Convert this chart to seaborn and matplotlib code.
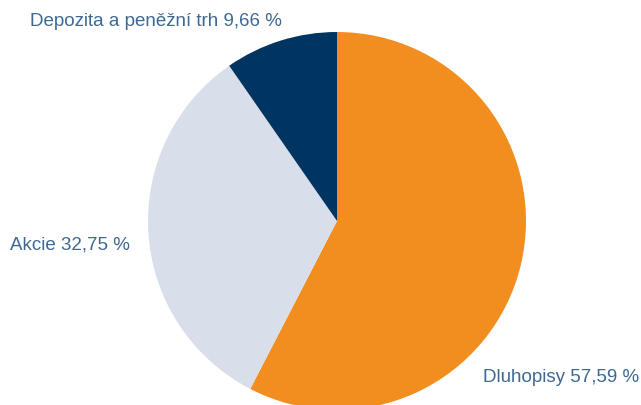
import matplotlib
matplotlib.use("Agg")
import matplotlib.pyplot as plt
import seaborn as sns

# portfolio split, clockwise from 12 o'clock
categories = ['Dluhopisy', 'Akcie', 'Depozita a peněžní trh']
shares = [57.59, 32.75, 9.66]
colors = ['#F28E20', '#D8DFEA', '#003562']
value_labels = ['57,59 %', '32,75 %', '9,66 %']

sns.set_style("white")
plt.rcParams['font.family'] = ['Liberation Sans', 'DejaVu Sans']

fig = plt.figure(figsize=(6.41, 4.05), dpi=100)
ax = fig.add_axes([0, 0, 1, 1])

# pixel-like coordinates, y pointing up (0 at top edge)
ax.pie(shares, colors=colors, startangle=90, counterclock=False,
       center=(337, -221), radius=189,
       wedgeprops={'linewidth': 0})
ax.set_xlim(0, 641)
ax.set_ylim(-405, 0)
ax.set_aspect('equal')
ax.axis('off')

txt_color = '#3E6894'
label_pos = {'Dluhopisy': (483, -382), 'Akcie': (10, -250),
             'Depozita a peněžní trh': (30, -26)}
for cat, lab in zip(categories, value_labels):
    x, y = label_pos[cat]
    ax.text(x, y, f"{cat} {lab}", color=txt_color, fontsize=13.5,
            ha='left', va='baseline')

fig.savefig("out.png", dpi=100)
